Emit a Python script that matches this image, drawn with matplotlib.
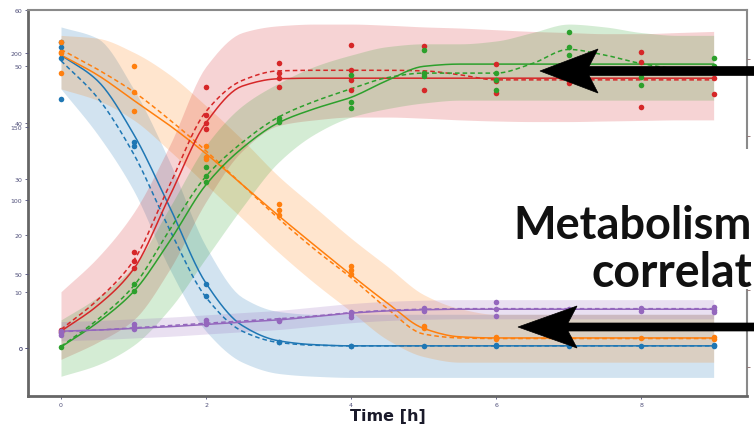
import matplotlib
matplotlib.use("Agg")
import matplotlib.pyplot as plt
from matplotlib.patches import Polygon, Rectangle
import numpy as np

# fitted curves / bands sampled every half hour
fit_t = [0, 0.5, 1, 1.5, 2, 2.5, 3, 3.5, 4, 4.5, 5, 5.5, 6, 6.5, 7, 7.5, 8, 8.5, 9]

blue_fit = [52, 47.5, 38, 25, 11.5, 4, 1.3, 0.6, 0.4, 0.4, 0.4, 0.4, 0.4, 0.4, 0.4, 0.4, 0.4, 0.4, 0.4]
blue_mean = [51, 44.5, 34.5, 21, 9, 3, 1, 0.5, 0.4, 0.4, 0.4, 0.4, 0.4, 0.4, 0.4, 0.4, 0.4, 0.4, 0.4]
blue_lo = [46, 38, 28, 14, 3, -2.5, -4.5, -5, -5.2, -5.2, -5.2, -5.2, -5.2, -5.2, -5.2, -5.2, -5.2, -5.2, -5.2]
blue_hi = [57, 55, 46, 33, 18, 9, 6.5, 6, 6, 6, 6, 6, 6, 6, 6, 6, 6, 6, 6]

orange_fit = [52, 48.5, 44, 39.5, 34.5, 29, 23.5, 18.2, 13, 8, 3.5, 2, 1.8, 1.8, 1.8, 1.8, 1.8, 1.8, 1.8]
orange_mean = [53, 49.5, 45.5, 40.5, 35, 29, 23, 17.5, 12.5, 7, 2.5, 1.8, 1.7, 1.7, 1.7, 1.7, 1.7, 1.7, 1.7]
orange_lo = [46, 44, 40.5, 35, 29, 23, 17, 11.5, 6.5, 1.5, -1.5, -2.5, -2.5, -2.5, -2.5, -2.5, -2.5, -2.5, -2.5]
orange_hi = [55.5, 55, 52.5, 48.5, 43, 37, 30.5, 25, 19.5, 14.5, 9.5, 7, 6, 6, 6, 6, 6, 6, 6]

red_fit = [3, 7.5, 14, 27, 40, 46.5, 47.8, 47.9, 47.9, 47.9, 47.9, 47.9, 47.9, 47.9, 47.9, 47.9, 47.9, 47.9, 47.9]
red_mean = [3.3, 8.5, 15.5, 29, 42, 47.5, 49.2, 49.3, 49.3, 49.3, 49.2, 48.5, 47.6, 47.6, 47.6, 47.6, 47.6, 47.6, 47.6]
red_lo = [-2, 1, 5, 14, 26, 35, 39.5, 40.5, 41, 41, 40.8, 40.5, 40.3, 40.2, 40.2, 40.3, 40.4, 40.5, 40.5]
red_hi = [10, 16, 24, 36, 50, 56, 57.2, 57.5, 57.5, 57.3, 57, 56.8, 56.5, 56.2, 56, 55.8, 55.8, 56, 56.2]

green_fit = [0.2, 4.5, 10, 19, 29, 35.5, 40, 42.5, 44.5, 47.5, 50, 50.4, 50.4, 50.4, 50.4, 50.4, 50.4, 50.4, 50.4]
green_mean = [0.3, 5, 11, 21, 30.5, 36.5, 41, 43.8, 46, 48, 48.8, 48.8, 48.8, 50.5, 53, 52, 50.5, 49.6, 49.4]
green_lo = [-5, -3, 0.5, 7, 16, 25, 33, 38, 41, 42.5, 43.5, 44, 44, 44, 44, 44, 44, 44, 44]
green_hi = [5, 9, 14.5, 25, 36, 43, 47, 50, 52, 53.5, 54, 54, 54.5, 56, 57.5, 57, 56, 55.5, 55.5]

purple_fit = [3.0, 3.2, 3.5, 3.8, 4.2, 4.6, 5.0, 5.6, 6.2, 6.6, 6.8, 6.9, 6.9, 6.9, 6.9, 6.9, 6.9, 6.9, 6.9]
purple_mean = [2.9, 3.2, 3.6, 4.0, 4.4, 4.8, 5.2, 5.7, 6.3, 6.7, 6.9, 7.0, 7.0, 7.0, 7.0, 7.0, 7.0, 7.0, 7.0]
purple_lo = [1.3, 1.5, 1.8, 2.1, 2.5, 2.9, 3.3, 3.9, 4.5, 4.9, 5.1, 5.2, 5.2, 5.2, 5.2, 5.2, 5.2, 5.2, 5.2]
purple_hi = [4.7, 4.9, 5.2, 5.5, 5.9, 6.3, 6.7, 7.3, 7.9, 8.3, 8.5, 8.6, 8.6, 8.6, 8.6, 8.6, 8.6, 8.6, 8.6]

# measured replicates
blue_t = [0, 0, 0, 0, 1, 1, 2, 2, 3, 3, 4, 4, 5, 6, 6, 7, 8, 9, 9]
blue_y = [54.3, 53.5, 51.5, 44.2, 36.5, 35.8, 11.3, 9.2, 1.1, 1.0, 0.4, 0.3, 0.4, 0.4, 0.5, 0.4, 0.4, 0.4, 0.5]
orange_t = [0, 0, 0, 0, 1, 1, 1, 2, 2, 2, 3, 3, 3, 4, 4, 4, 5, 5, 6, 6, 7, 8, 9, 9]
orange_y = [54.3, 52.6, 52.4, 48.8, 50.1, 45.5, 42.1, 35.8, 34, 33.5, 25.5, 24.5, 23.7,
            14.5, 13.8, 13.1, 3.9, 3.5, 1.9, 1.6, 1.8, 1.8, 1.9, 1.6]
red_t = [0, 0, 1, 1, 1, 2, 2, 2, 2, 3, 3, 3, 3, 4, 4, 4, 4, 5, 5, 5, 6, 6, 6, 7, 7, 8, 8, 8, 9, 9, 9]
red_y = [3.3, 2.8, 17, 15.5, 14.3, 46.4, 41.4, 40, 38.8, 50.6, 48.8, 48, 46.4, 53.8, 49.4, 47.6, 45.8,
         53.6, 48.8, 45.8, 50.4, 47.4, 45.3, 47.1, 48.5, 52.6, 50.8, 42.8, 49.9, 48, 45.1]
green_t = [0, 1, 1, 2, 2, 2, 3, 3, 3, 4, 4, 4, 5, 5, 5, 6, 6, 6, 7, 7, 7, 8, 8, 9, 9]
green_y = [0.2, 11.3, 10.1, 32.2, 30.6, 29.4, 40.9, 40.2, 40.5, 48.5, 43.7, 42.6, 52.9, 48.8, 48.3,
           48.8, 45.8, 47.5, 56.1, 53.5, 52, 48.1, 46.7, 51.5, 50]
purple_t = [0, 0, 0, 1, 1, 1, 2, 2, 2, 3, 3, 4, 4, 4, 5, 5, 6, 6, 6, 7, 7, 8, 8, 9, 9, 9]
purple_y = [3.0, 2.3, 2.7, 4.2, 3.4, 3.8, 4.6, 4.2, 4.9, 5.0, 4.8, 6.4, 5.5, 6.0, 7.2, 6.6,
            8.1, 6.9, 5.7, 7.0, 6.6, 7.2, 6.6, 7.3, 6.8, 6.4]

x_ticks = [0, 2, 4, 6, 8]
left_ticks = [0, 10, 20, 30, 40, 50, 60]
second_ticks = [0, 50, 100, 150, 200]
right_ticks = [0, 1, 2, 3, 4]

series = [
    ("#1f77b4", blue_fit, blue_mean, blue_lo, blue_hi, blue_t, blue_y),
    ("#ff7f0e", orange_fit, orange_mean, orange_lo, orange_hi, orange_t, orange_y),
    ("#d62728", red_fit, red_mean, red_lo, red_hi, red_t, red_y),
    ("#2ca02c", green_fit, green_mean, green_lo, green_hi, green_t, green_y),
    ("#9467bd", purple_fit, purple_mean, purple_lo, purple_hi, purple_t, purple_y),
]


def smooth(x, y, n=10):
    # monotone cubic (pchip style) drawing of the sampled curve
    x = np.asarray(x, float)
    y = np.asarray(y, float)
    h = np.diff(x)
    d = np.diff(y) / h
    m = np.zeros_like(y)
    for k in range(1, len(y) - 1):
        if d[k - 1] * d[k] > 0:
            w1 = 2 * h[k] + h[k - 1]
            w2 = h[k] + 2 * h[k - 1]
            m[k] = (w1 + w2) / (w1 / d[k - 1] + w2 / d[k])
    m[0] = d[0]
    m[-1] = d[-1]
    xs, ys = [], []
    s = np.linspace(0, 1, n, endpoint=False)
    for k in range(len(h)):
        h00 = 2 * s**3 - 3 * s**2 + 1
        h10 = s**3 - 2 * s**2 + s
        h01 = -2 * s**3 + 3 * s**2
        h11 = s**3 - s**2
        ys.append(h00 * y[k] + h10 * h[k] * m[k] + h01 * y[k + 1] + h11 * h[k] * m[k + 1])
        xs.append(x[k] + s * h[k])
    xs.append([x[-1]])
    ys.append([y[-1]])
    return np.concatenate(xs), np.concatenate(ys)


W, H = 754, 427
fig = plt.figure(figsize=(W / 100, H / 100), dpi=100)
ax = fig.add_axes([28 / W, 30 / H, 719 / W, 386 / H])

for c, f, m, lo, hi, pt, py in series:
    xs, lo_s = smooth(fit_t, lo)
    _, hi_s = smooth(fit_t, hi)
    ax.fill_between(xs, lo_s, hi_s, color=c, alpha=0.2, lw=0)
for c, f, m, lo, hi, pt, py in series:
    ax.plot(*smooth(fit_t, f), color=c, lw=1.1)
    ax.plot(*smooth(fit_t, m), color=c, lw=1.1, ls=(0, (3, 2)))
    ax.scatter(pt, py, color=c, s=16, zorder=3, lw=0)

tick_col = "#50507a"
ax.set_xlim(-0.455, 9.46)
ax.set_ylim(-8.5, 60)
ax.set_xticks(x_ticks)
ax.set_yticks(left_ticks)
ax.tick_params(labelsize=4.5, colors=tick_col, length=2, width=0.6, pad=2)
ax.set_xlabel("Time [h]", fontsize=11.5, fontweight="bold", color="#1a1a2a", labelpad=1)

ax2 = ax.twinx()
ax2.yaxis.tick_left()
ax2.set_ylim(-32.5, 229)
ax2.set_yticks(second_ticks)
ax2.tick_params(labelsize=4.5, colors=tick_col, length=2, width=0.6, pad=2)

ax3 = ax.twinx()
ax3.set_ylim(-0.377, 4.636)
ax3.set_yticks(right_ticks)
ax3.set_yticklabels([])
ax3.tick_params(colors="#8a6a6a", length=2, width=0.6)

for a in (ax, ax2, ax3):
    for s in a.spines.values():
        s.set_visible(False)
for side in ("left", "bottom"):
    ax.spines[side].set_visible(True)
    ax.spines[side].set_color("#666666")
    ax.spines[side].set_linewidth(2)
for side in ("top", "right"):
    ax.spines[side].set_visible(True)
    ax.spines[side].set_color("#8a8a8a")
    ax.spines[side].set_linewidth(1.5)


# slide overlay: white text area, title text and arrows
def fx(x):
    return x / W


def fy(y):
    return (H - y) / H


fig.add_artist(Rectangle((fx(505), fy(290)), fx(754) - fx(505), fy(150) - fy(290),
                         transform=fig.transFigure, facecolor="white", edgecolor="none", zorder=5))
fig.text(fx(752), fy(239), "Metabolism", fontsize=32.5, fontweight="bold", family="Lato",
         color="#111111", ha="right", va="baseline", zorder=6)
fig.text(fx(752), fy(287), "correlat", fontsize=33.5, fontweight="bold", family="Lato",
         color="#111111", ha="right", va="baseline", zorder=6)

for tip_x, tip_y, back_x, half_h, sh in [(540, 72, 598, 22, 4.5), (518, 328, 577, 21, 4)]:
    notch = back_x - 9
    pts = [(tip_x, tip_y), (back_x, tip_y - half_h), (notch, tip_y - sh), (760, tip_y - sh),
           (760, tip_y + sh), (notch, tip_y + sh), (back_x, tip_y + half_h)]
    fig.add_artist(Polygon([(fx(x), fy(y)) for x, y in pts], closed=True,
                           transform=fig.transFigure, facecolor="black", edgecolor="black",
                           lw=0.5, zorder=7))

fig.savefig("out.png", dpi=100, facecolor="white")
